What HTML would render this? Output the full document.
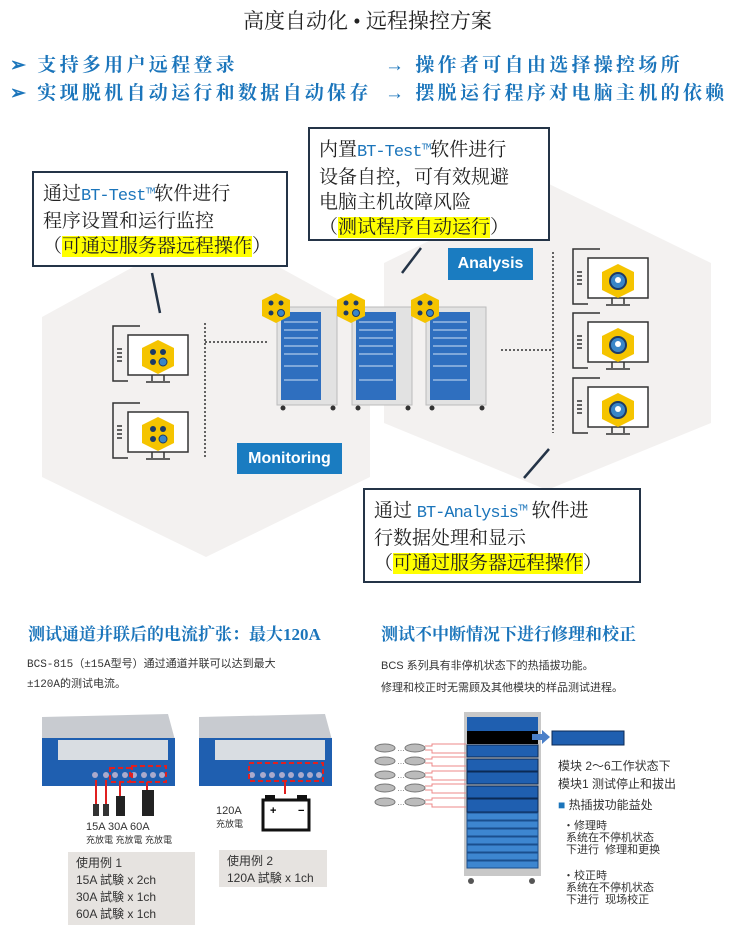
<!DOCTYPE html>
<html><head><meta charset="utf-8">
<style>
*{margin:0;padding:0;box-sizing:border-box}
body{width:735px;height:925px;background:#fff;position:relative;overflow:hidden;font-family:"Liberation Sans","Noto Sans CJK SC",sans-serif}
.a{position:absolute;white-space:nowrap}
.serif{font-family:"Liberation Serif","Noto Serif CJK SC",serif}
.bl{color:#1b75bb;font-weight:bold}
.box{position:absolute;border:2.5px solid #243447;background:#fff;font-family:"Liberation Serif","Noto Serif CJK SC",serif;font-size:19px;line-height:25px;color:#222;padding:6px 0 0 9px}
.hl{background:#ffff00}
.bt{color:#1b75bb;font-family:"Liberation Mono","Noto Sans CJK SC",monospace;font-size:17px;letter-spacing:-1px}
.lbl{position:absolute;background:#1a7cc1;color:#fff;font-weight:bold;font-size:16px;text-align:center}
.sm{font-size:11px;color:#333}
</style></head><body>

<div class="a serif" style="left:0;width:735px;text-align:center;top:5px;font-size:21px;color:#222">高度自动化 • 远程操控方案</div>
<div class="a bl serif" style="left:10px;top:50px;font-size:19px;letter-spacing:3.3px">➢ 支持多用户远程登录</div>
<div class="a bl serif" style="left:10px;top:78px;font-size:19px;letter-spacing:3.3px">➢ 实现脱机自动运行和数据自动保存</div>
<div class="a bl serif" style="left:385px;top:50px;font-size:19px;letter-spacing:3.3px">→ 操作者可自由选择操控场所</div>
<div class="a bl serif" style="left:385px;top:78px;font-size:19px;letter-spacing:3.3px">→ 摆脱运行程序对电脑主机的依赖</div>

<svg class="a" style="left:0;top:0" width="735" height="600">
 <polygon points="206,227 370,317 370,477 206,557 42,477 42,317" fill="#f3f1f0"/>
 <polygon points="547,183 711,263 711,423 547,490 384,423 384,263" fill="#f3f1f0"/>
 <g stroke="#243447" stroke-width="2.5">
  <line x1="152" y1="273" x2="160" y2="313"/>
  <line x1="421" y1="248" x2="402" y2="273"/>
  <line x1="549" y1="449" x2="524" y2="478"/>
 </g>
 <g stroke="#333" stroke-width="1.5" stroke-dasharray="2,2" fill="none">
  <line x1="205" y1="323" x2="205" y2="458"/>
  <line x1="205" y1="342" x2="268" y2="342"/>
  <line x1="553" y1="252" x2="553" y2="433"/>
  <line x1="501" y1="350" x2="553" y2="350"/>
 </g>
 <g id="pc" fill="none" stroke="#333" stroke-width="1.5">
  <path d="M140,326 H113 V381 H128"/>
  <rect x="128" y="335" width="60" height="40" fill="#fff"/>
  <path d="M152,375 V381 M164,375 V381 M146,382 H170"/>
  <path d="M117,349 H122 M117,353 H122 M117,357 H122 M117,361 H122"/>
 </g>
 <use href="#pc" y="77"/>
 <use href="#pc" x="460" y="-77"/>
 <use href="#pc" x="460" y="-13"/>
 <use href="#pc" x="460" y="52"/>
 <g id="hx"><polygon points="158,340 174,348 174,366 158,374 142,366 142,348" fill="#f5c400"/>
  <circle cx="153" cy="352" r="3" fill="#1c3a66"/><circle cx="163" cy="352" r="3" fill="#1c3a66"/>
  <circle cx="153" cy="362" r="3" fill="#1c3a66"/><circle cx="163" cy="362" r="4" fill="#3a86c8" stroke="#1c3a66"/></g>
 <use href="#hx" y="77"/>
 <g id="hy"><polygon points="618,264 634,272 634,290 618,298 602,290 602,272" fill="#f5c400"/>
  <circle cx="618" cy="281" r="8" fill="#3a86c8" stroke="#1c3a66" stroke-width="2"/><circle cx="618" cy="280" r="3" fill="#fff"/></g>
 <use href="#hy" y="64"/>
 <use href="#hy" y="129"/>
 <g id="rk">
  <rect x="277" y="307" width="60" height="98" fill="#e2e2e2" stroke="#bbb"/>
  <rect x="281" y="312" width="40" height="88" fill="#2f6fbf"/>
  <g stroke="#cfe0f5" stroke-width="1"><line x1="284" y1="322" x2="318" y2="322"/><line x1="284" y1="330" x2="318" y2="330"/><line x1="284" y1="338" x2="318" y2="338"/><line x1="284" y1="346" x2="318" y2="346"/><line x1="284" y1="354" x2="318" y2="354"/><line x1="284" y1="366" x2="318" y2="366"/><line x1="284" y1="380" x2="318" y2="380"/></g>
  <circle cx="283" cy="408" r="2.5" fill="#333"/><circle cx="333" cy="408" r="2.5" fill="#333"/>
  <polygon points="276,293 290,300 290,316 276,323 262,316 262,300" fill="#f5c400"/>
  <circle cx="271" cy="303" r="2.5" fill="#1c3a66"/><circle cx="281" cy="303" r="2.5" fill="#1c3a66"/>
  <circle cx="271" cy="313" r="2.5" fill="#1c3a66"/><circle cx="281" cy="313" r="3.5" fill="#3a86c8" stroke="#1c3a66"/>
 </g>
 <use href="#rk" x="75"/>
 <use href="#rk" x="149"/>
</svg>

<div class="lbl" style="left:237px;top:443px;width:105px;height:31px;line-height:31px">Monitoring</div>
<div class="lbl" style="left:448px;top:248px;width:85px;height:32px;line-height:32px">Analysis</div>

<div class="box" style="left:32px;top:171px;width:256px;height:96px">通过<span class="bt">BT-Test<sup style="font-size:9px">TM</sup></span>软件进行<br>程序设置和运行监控<br>（<span class="hl">可通过服务器远程操作</span>）</div>
<div class="box" style="left:308px;top:127px;width:242px;height:114px">内置<span class="bt">BT-Test<sup style="font-size:9px">TM</sup></span>软件进行<br>设备自控，可有效规避<br>电脑主机故障风险<br>（<span class="hl">测试程序自动运行</span>）</div>
<div class="box" style="left:363px;top:488px;width:278px;height:95px">通过 <span class="bt">BT-Analysis<sup style="font-size:9px">TM</sup></span> 软件进<br>行数据处理和显示<br>（<span class="hl">可通过服务器远程操作</span>）</div>

<div class="a bl serif" style="left:28px;top:620px;font-size:17px">测试通道并联后的电流扩张：最大120A</div>
<div class="a sm" style="left:27px;top:655px;font-family:'Liberation Mono','Noto Sans CJK SC',monospace;line-height:20px">BCS-815（±15A型号）通过通道并联可以达到最大<br>±120A的测试电流。</div>
<svg class="a" style="left:0;top:700px" width="370" height="150">
 <g id="dv">
  <polygon points="42,17 168,14 175,40 42,40" fill="#c8cbd0"/>
  <rect x="42" y="38" width="133" height="48" fill="#1f5fb0"/>
  <rect x="58" y="40" width="110" height="20" fill="#d9dde2"/>
  <g fill="#aac">
   <circle cx="95" cy="75" r="3"/><circle cx="106" cy="75" r="3"/><circle cx="115" cy="75" r="3"/><circle cx="125" cy="75" r="3"/><circle cx="134" cy="75" r="3"/><circle cx="144" cy="75" r="3"/><circle cx="153" cy="75" r="3"/><circle cx="162" cy="75" r="3"/>
  </g>
 </g>
 <use href="#dv" x="157"/>
 <g stroke="#e02020" stroke-width="2" fill="none" stroke-dasharray="5,3">
  <rect x="110" y="68" width="20" height="14"/>
  <rect x="132" y="66" width="34" height="16"/>
  <rect x="249" y="63" width="74" height="18"/>
 </g>
 <g stroke="#e02020" stroke-width="2"><line x1="96" y1="80" x2="96" y2="104"/><line x1="106" y1="80" x2="106" y2="104"/><line x1="120" y1="82" x2="120" y2="96"/><line x1="147" y1="82" x2="147" y2="90"/><line x1="285" y1="81" x2="285" y2="94"/></g>
 <rect x="93" y="104" width="6" height="12" fill="#333"/><rect x="103" y="104" width="6" height="12" fill="#333"/>
 <rect x="116" y="96" width="9" height="20" fill="#222"/><rect x="142" y="90" width="12" height="26" fill="#222"/>
 <rect x="263" y="100" width="46" height="30" fill="#fff" stroke="#111" stroke-width="3"/>
 <rect x="265" y="95" width="10" height="6" fill="#111"/><rect x="297" y="95" width="10" height="6" fill="#111"/>
 <text x="270" y="114" font-size="11" font-weight="bold">+</text><text x="298" y="114" font-size="11" font-weight="bold">−</text>
</svg>
<div class="a sm" style="left:86px;top:821px;line-height:13px;font-size:11px">15A 30A 60A<br><span style="font-size:9px">充放電 充放電 充放電</span></div>
<div class="a sm" style="left:216px;top:805px;line-height:13px">120A<br><span style="font-size:9px">充放電</span></div>
<div class="a" style="left:68px;top:852px;width:127px;height:73px;background:#e6e3e0;font-size:12px;line-height:17px;padding:3px 0 0 8px;color:#333">使用例 1<br>15A 試験 x 2ch<br>30A 試験 x 1ch<br>60A 試験 x 1ch</div>
<div class="a" style="left:219px;top:850px;width:108px;height:37px;background:#e6e3e0;font-size:12px;line-height:17px;padding:3px 0 0 8px;color:#333">使用例 2<br>120A 試験 x 1ch</div>

<div class="a bl serif" style="left:381px;top:620px;font-size:17px">测试不中断情况下进行修理和校正</div>
<div class="a sm" style="left:381px;top:655px;line-height:22px">BCS 系列具有非停机状态下的热插拔功能。<br>修理和校正时无需顾及其他模块的样品测试进程。</div>
<svg class="a" style="left:370px;top:700px" width="365" height="190">
 <rect x="94" y="12" width="77" height="164" fill="#c8c8c8"/>
 <rect x="97" y="17" width="71" height="14" fill="#1f5fb0"/>
 <rect x="97" y="31" width="71" height="13" fill="#000"/>
 <g fill="#1f5fb0" stroke="#0b2a55">
  <rect x="97" y="45" width="71" height="12"/><rect x="97" y="59" width="71" height="12"/><rect x="97" y="72" width="71" height="12"/><rect x="97" y="86" width="71" height="12"/><rect x="97" y="99" width="71" height="13"/>
 </g>
 <g fill="#3d86d0" stroke="#1a4f8e">
  <rect x="97" y="113" width="71" height="7"/><rect x="97" y="121" width="71" height="7"/><rect x="97" y="129" width="71" height="7"/><rect x="97" y="137" width="71" height="7"/><rect x="97" y="145" width="71" height="7"/><rect x="97" y="153" width="71" height="7"/><rect x="97" y="161" width="71" height="7"/>
 </g>
 <circle cx="101" cy="181" r="3" fill="#555"/><circle cx="162" cy="181" r="3" fill="#555"/>
 <polygon points="162,34 172,34 172,30 180,37 172,44 172,40 162,40" fill="#4a7fc8"/>
 <rect x="182" y="31" width="72" height="14" fill="#1f5fb0" stroke="#0b2a55"/>
 <g id="cl"><ellipse cx="15" cy="48" rx="10" ry="4" fill="#bbb" stroke="#777"/><text x="27" y="51" font-size="8" fill="#666">…</text><ellipse cx="45" cy="48" rx="10" ry="4" fill="#bbb" stroke="#777"/>
  <path d="M55,46 H62 V44 H96 M55,50 H62 V53 H96" stroke="#e88" fill="none"/></g>
 <use href="#cl" y="13"/><use href="#cl" y="27"/><use href="#cl" y="40"/><use href="#cl" y="54"/>
</svg>
<div class="a" style="left:558px;top:757px;font-size:12px;line-height:18px;color:#333">模块 2～6工作状态下<br>模块1 测试停止和拔出</div>
<div class="a" style="left:558px;top:796px;font-size:12px;color:#333"><span style="color:#1b75bb">■</span> 热插拔功能益处</div>
<div class="a" style="left:563px;top:820px;font-size:11px;line-height:12px;color:#333">・修理時<br>&nbsp;系统在不停机状态<br>&nbsp;下进行&nbsp; 修理和更换</div>
<div class="a" style="left:563px;top:870px;font-size:11px;line-height:12px;color:#333">・校正時<br>&nbsp;系统在不停机状态<br>&nbsp;下进行&nbsp; 现场校正</div>
</body></html>
